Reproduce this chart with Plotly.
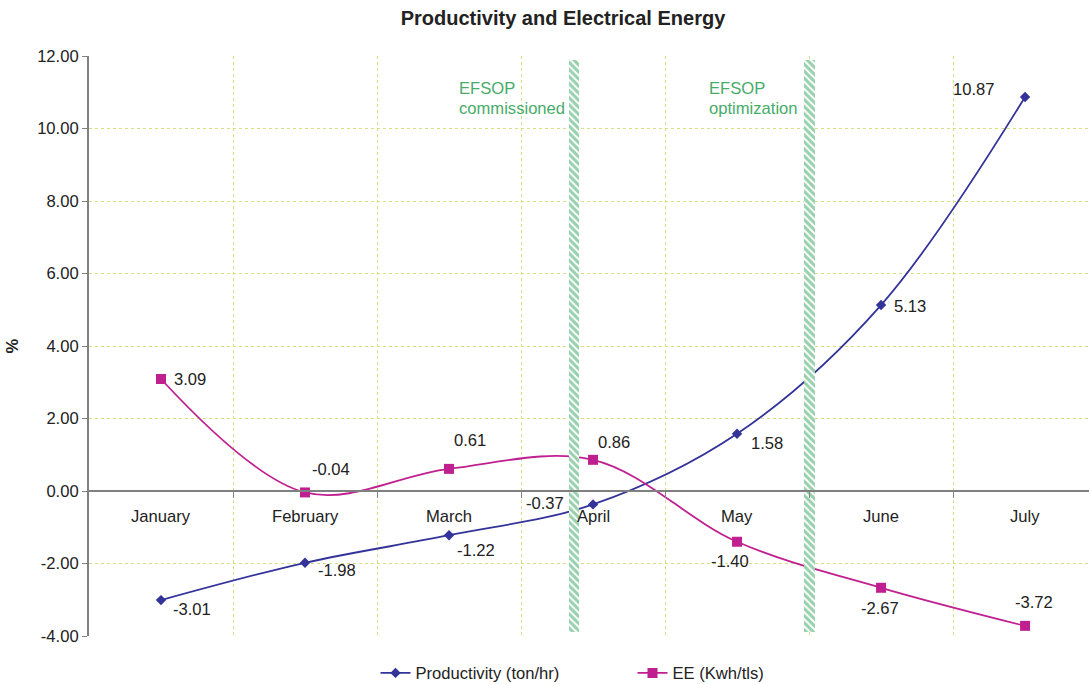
import plotly.graph_objects as go

# Monthly change (%) of productivity and electrical energy use
months = ["January", "February", "March", "April", "May", "June", "July"]
productivity = [-3.01, -1.98, -1.22, -0.37, 1.58, 5.13, 10.87]
energy = [3.09, -0.04, 0.61, 0.86, -1.40, -2.67, -3.72]
y_ticks = [-4, -2, 0, 2, 4, 6, 8, 10, 12]

# Project milestones, placed between months on the category scale
event_x = [2.868, 4.503]
event_text = [["EFSOP", "commissioned"], ["EFSOP", "optimization"]]
event_bottom = -3.88
event_top = 11.9

# Data-label offsets in pixels (xanchor, xshift, yshift)
prod_label_pos = [("left", 10, -9), ("left", 11, -8), ("left", 6, -15), ("right", -27, 1),
                  ("left", 12, -10), ("left", 11, -1), ("right", -28, 7)]
energy_label_pos = [("left", 11, -1), ("left", 5, 23), ("left", 3, 28), ("left", 3, 17),
                    ("center", -7, -20), ("center", -1, -21), ("center", 9, 23)]
# Milestone caption: left edge relative to the bar centre, first-line offset, line gap
event_text_left = [-117, -102]
event_text_top = -29
event_line_gap = 20
# Month names sit just under the zero line
month_label_shift = -25

NAVY = "#333399"
MAGENTA = "#C0208F"
GREEN = "#47AC69"
HATCH = "#2FA35A"
GRID = "#D6DE80"
AXIS = "#808080"
TEXT = "#222222"
FONT = "Liberation Sans, Arial, sans-serif"
FS = 16.6

x_idx = list(range(len(months)))
boundaries = [i + 0.5 for i in range(len(months) - 1)]

fig = go.Figure()

fig.add_trace(go.Scatter(
    x=x_idx, y=productivity, name="Productivity (ton/hr)",
    mode="lines+markers",
    line=dict(color=NAVY, width=1.8, shape="spline", smoothing=1.0),
    marker=dict(symbol="diamond", size=8, color=NAVY),
))
fig.add_trace(go.Scatter(
    x=x_idx, y=energy, name="EE (Kwh/tls)",
    mode="lines+markers",
    line=dict(color=MAGENTA, width=1.8, shape="spline", smoothing=1.0),
    marker=dict(symbol="square", size=10, color=MAGENTA),
))

# Hatched milestone bars on an overlaid axis pair so they sit above the lines
fig.add_trace(go.Bar(
    x=event_x, y=[event_top - event_bottom] * len(event_x), base=event_bottom,
    width=0.07, xaxis="x2", yaxis="y2", showlegend=False, hoverinfo="skip",
    marker=dict(color="white", line=dict(width=0),
                pattern=dict(shape="\\", fgcolor=HATCH, bgcolor="white",
                             size=5, solidity=0.6)),
))

annotations = []
for i, m in enumerate(months):
    annotations.append(dict(x=i, y=0, text=m, showarrow=False,
                            xanchor="center", yanchor="middle", yshift=month_label_shift,
                            font=dict(size=FS, color=TEXT, family=FONT)))
for i, (v, (xa, dx, dy)) in enumerate(zip(productivity, prod_label_pos)):
    annotations.append(dict(x=i, y=v, text=f"{v:.2f}", showarrow=False,
                            xanchor=xa, yanchor="middle", xshift=dx, yshift=dy,
                            font=dict(size=FS, color=TEXT, family=FONT)))
for i, (v, (xa, dx, dy)) in enumerate(zip(energy, energy_label_pos)):
    annotations.append(dict(x=i, y=v, text=f"{v:.2f}", showarrow=False,
                            xanchor=xa, yanchor="middle", xshift=dx, yshift=dy,
                            font=dict(size=FS, color=TEXT, family=FONT)))
for ex, lines, left in zip(event_x, event_text, event_text_left):
    for k, line in enumerate(lines):
        annotations.append(dict(x=ex, y=event_top, text=line, showarrow=False,
                                xanchor="left", yanchor="middle", xshift=left,
                                yshift=event_text_top - k * event_line_gap,
                                font=dict(size=FS, color=GREEN, family=FONT)))

x_range = [-0.5, 6.444]
y_range = [-4, 12]

fig.update_layout(
    width=1089, height=684,
    margin=dict(l=89, r=0, t=56, b=48, autoexpand=False),
    paper_bgcolor="white", plot_bgcolor="white",
    font=dict(family=FONT, size=FS, color=TEXT),
    title=dict(text="<b>Productivity and Electrical Energy</b>",
               x=0.517, xanchor="center", xref="container",
               y=1 - 18 / 684, yanchor="middle", yref="container",
               font=dict(size=20, color=TEXT, family=FONT)),
    showlegend=True,
    legend=dict(orientation="h", x=0.5435, xanchor="center",
                y=-0.064, yanchor="middle",
                font=dict(size=FS, color=TEXT, family=FONT),
                entrywidth=212, bgcolor="rgba(0,0,0,0)"),
    hovermode=False,
    bargap=0,
    annotations=annotations,
    xaxis=dict(
        range=x_range, anchor="free", position=0.25,
        tickmode="array", tickvals=boundaries, showticklabels=False,
        ticks="outside", ticklen=6, tickcolor=AXIS, tickwidth=1,
        showline=True, linecolor=AXIS, linewidth=2,
        showgrid=True, gridcolor=GRID, gridwidth=1, griddash="dot",
        zeroline=False,
    ),
    yaxis=dict(
        range=y_range, tickmode="array", tickvals=y_ticks,
        ticktext=[f"{t:.2f}" for t in y_ticks],
        ticks="outside", ticklen=5, tickcolor=AXIS,
        showline=True, linecolor=AXIS, linewidth=2,
        showgrid=True, gridcolor=GRID, gridwidth=1, griddash="dot",
        zeroline=False,
        tickfont=dict(size=FS, color=TEXT, family=FONT),
        title=dict(text="<b>%</b>", standoff=14,
                   font=dict(size=FS, color=TEXT, family=FONT)),
    ),
    xaxis2=dict(range=x_range, overlaying="x", visible=False),
    yaxis2=dict(range=y_range, overlaying="y", visible=False),
)

fig.write_html("out.html")
